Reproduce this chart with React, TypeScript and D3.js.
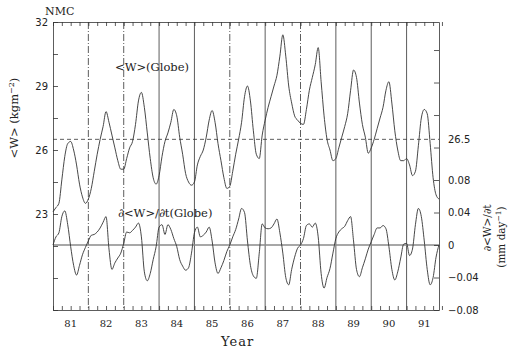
import * as d3 from 'd3';
import React, { useEffect, useRef } from 'react';

// monthly values, Jan 1981 .. Dec 1991
const startYear = 1981;
const wGlobe: number[] = [
    23.1, 23.3, 23.5, 24.6, 25.7, 26.3, 26.4, 26.0, 25.3, 24.4, 23.8, 23.5,
    23.7, 24.2, 25.0, 25.8, 26.5, 27.1, 27.8, 27.3, 26.7, 26.1, 25.5, 25.1,
    25.1, 25.6, 26.1, 26.4, 27.2, 28.3, 28.7, 28.0, 26.8, 25.6, 24.7, 24.4,
    24.8, 25.7, 26.4, 26.8, 27.3, 27.9, 27.6, 26.6, 25.8, 24.9, 24.5, 24.35,
    24.5, 25.3, 25.7, 26.0, 26.6, 27.4, 27.85, 27.3, 26.3, 25.5, 24.7, 24.2,
    24.3, 25.0, 25.8, 26.5, 27.3, 28.5, 29.0, 28.3, 26.9, 25.8, 25.6, 26.7,
    27.4, 28.0, 28.5, 29.0, 29.5, 30.4, 31.4, 30.4, 29.0, 28.2, 27.6, 27.4,
    27.25, 27.2, 27.9, 28.8, 29.4, 30.0, 30.8, 29.2, 27.6, 26.5, 26.0, 25.5,
    25.6, 26.1, 26.6, 27.1, 27.7, 28.8, 29.75, 29.4, 28.2, 27.2, 26.6, 25.85,
    26.1, 26.5, 27.0, 27.5, 28.0, 28.8, 29.2, 28.2, 26.9, 26.0, 25.5, 25.5,
    25.6, 25.3, 24.8, 25.0, 26.2, 27.5, 27.9, 27.7, 26.3, 24.7, 23.9, 23.7,
];
const dwdt: number[] = [
    0.0, 0.01, 0.015, 0.035, 0.042, 0.025, -0.002, -0.025, -0.037, -0.025, -0.012, -0.003,
    0.005, 0.012, 0.013, 0.016, 0.021, 0.028, 0.035, -0.005, -0.03, -0.022, -0.016, -0.01,
    0.002, 0.016, 0.015, 0.018, 0.022, 0.027, 0.01, -0.033, -0.044, -0.035, -0.018, -0.002,
    0.022, 0.025, 0.013, 0.025, 0.019, 0.008, -0.002, -0.018, -0.026, -0.031, -0.028, -0.01,
    0.015, 0.022, 0.01, 0.012, 0.016, 0.022, 0.005, -0.022, -0.035, -0.028, -0.019, -0.008,
    0.0, 0.01, 0.019, 0.032, 0.045, 0.04, 0.005, -0.025, -0.038, -0.041, -0.01, 0.026,
    0.021, 0.02, 0.021, 0.026, 0.032, 0.015, -0.01, -0.04, -0.049, -0.03, -0.015, -0.004,
    0.0, 0.008, 0.024, 0.026, 0.022, 0.027, 0.01, -0.035, -0.053, -0.04, -0.029, -0.01,
    0.008, 0.016, 0.02, 0.023, 0.03, 0.035, 0.005, -0.03, -0.039, -0.028, -0.017, -0.005,
    0.004, 0.013, 0.021, 0.021, 0.024, 0.02, -0.002, -0.03, -0.043, -0.033, -0.016, 0.001,
    0.002, -0.013, -0.005, 0.025, 0.045, 0.035, 0.005, -0.03, -0.049, -0.04, -0.015, 0.0,
];
const yearLabels = ['81', '82', '83', '84', '85', '86', '87', '88', '89', '90', '91'];
const leftTicks = [32, 30.5, 29, 27.5, 26, 24.5, 23, 21.5, 20, 18.5];
const leftLabels = [32, 29, 26, 23];
const rightTicks = [-0.08, -0.04, 0, 0.04, 0.08, 0.12, 0.16, 0.2, 0.24];
const rightLabels = [-0.08, -0.04, 0, 0.04, 0.08];
const refLevel = 26.5;
// year boundaries drawn dash-dot instead of solid
const dashedYears = [1982, 1983, 1986, 1988];

export default () => {
    const ref = useRef<any>();

    useEffect(() => {
        const svg = d3.select<any, any>(ref.current);
        svg.selectAll('*').remove();

        const frame = { left: 53, right: 439, top: 22, bottom: 310 };
        const endYear = startYear + (wGlobe.length - 1) / 12;

        const x = d3.scaleLinear().domain([startYear, endYear]).range([frame.left, frame.right]);
        const yL = d3.scaleLinear().domain([18.5, 32]).range([frame.bottom, frame.top]);
        const yR = d3.scaleLinear().domain([-0.08, 0.2745]).range([frame.bottom, frame.top]);
        const t = (i: number) => startYear + i / 12;

        const ink = '#333';
        const tickFont = '"DejaVu Sans", sans-serif';
        const serif = '"DejaVu Serif", serif';

        // year boundary lines
        const years = d3.range(startYear + 1, startYear + yearLabels.length);
        svg.append('g').selectAll('line').data(years).join('line')
            .attr('x1', (d) => x(d)).attr('x2', (d) => x(d))
            .attr('y1', frame.top).attr('y2', frame.bottom)
            .attr('stroke', ink).attr('stroke-width', 0.8)
            .attr('stroke-dasharray', (d) => dashedYears.includes(d) ? '7,2,1,2' : null);

        // reference lines
        svg.append('line')
            .attr('x1', frame.left).attr('x2', frame.right)
            .attr('y1', yL(refLevel)).attr('y2', yL(refLevel))
            .attr('stroke', ink).attr('stroke-width', 0.8).attr('stroke-dasharray', '4,3');
        svg.append('line')
            .attr('x1', frame.left).attr('x2', frame.right)
            .attr('y1', yR(0)).attr('y2', yR(0))
            .attr('stroke', '#8a8a8a').attr('stroke-width', 1.3);

        // axes
        const quarters = d3.range(0, wGlobe.length + 1, 3).map(t);
        const styleAxis = (g: any) => {
            g.selectAll('path,line').attr('stroke', ink).attr('stroke-width', 0.8);
            g.selectAll('text').attr('font-family', tickFont).attr('font-size', 10).attr('fill', '#222');
        };
        svg.append('g').attr('transform', `translate(0,${frame.bottom})`)
            .call(d3.axisBottom(x).tickValues(quarters).tickSize(-4).tickSizeOuter(0).tickFormat(() => ''))
            .call(styleAxis);
        svg.append('g').attr('transform', `translate(0,${frame.top})`)
            .call(d3.axisTop(x).tickValues(quarters).tickSize(-4).tickSizeOuter(0).tickFormat(() => ''))
            .call(styleAxis);
        svg.append('g').attr('transform', `translate(${frame.left},0)`)
            .call(d3.axisLeft(yL).tickValues(leftTicks).tickSize(-5).tickSizeOuter(0).tickPadding(5)
                .tickFormat((d: any) => leftLabels.includes(d) ? String(d) : ''))
            .call(styleAxis);
        svg.append('g').attr('transform', `translate(${frame.right},0)`)
            .call(d3.axisRight(yR).tickValues(rightTicks).tickSize(-5).tickSizeOuter(0).tickPadding(9)
                .tickFormat((d: any) => rightLabels.includes(d) ? (d < 0 ? '\u2212' + Math.abs(d).toFixed(2) : d === 0 ? '0' : d.toFixed(2)) : ''))
            .call(styleAxis);
        svg.append('text').attr('x', frame.right + 9).attr('y', yL(refLevel)).attr('dy', '0.32em')
            .attr('font-family', tickFont).attr('font-size', 10).attr('fill', '#222').text(String(refLevel));

        // year labels
        svg.append('g').selectAll('text').data(yearLabels).join('text')
            .attr('x', (d, i) => x(startYear + i + 0.5)).attr('y', 327)
            .attr('text-anchor', 'middle').attr('font-family', serif).attr('font-size', 10).attr('fill', '#222')
            .text((d) => d);

        // curves
        const lineW = d3.line<number>().x((d, i) => x(t(i))).y((d) => yL(d)).curve(d3.curveMonotoneX);
        const lineD = d3.line<number>().x((d, i) => x(t(i))).y((d) => yR(d)).curve(d3.curveMonotoneX);
        svg.append('path').datum(wGlobe).attr('d', lineW).attr('fill', 'none').attr('stroke', ink).attr('stroke-width', 0.9);
        svg.append('path').datum(dwdt).attr('d', lineD).attr('fill', 'none').attr('stroke', ink).attr('stroke-width', 0.9);

        // annotations
        const txt = (xx: number, yy: number, s: string, size: number) =>
            svg.append('text').attr('x', xx).attr('y', yy).attr('font-family', serif)
                .attr('font-size', size).attr('fill', '#222').text(s);
        txt(45, 15, 'NMC', 11);
        txt(115, 71, '<W>(Globe)', 11.5);
        txt(118, 217, '\u2202<W>/\u2202t(Globe)', 11.5);
        txt(221, 346, 'Year', 13).attr('letter-spacing', 1);

        const left = svg.append('text').attr('transform', 'translate(18,118) rotate(-90)')
            .attr('text-anchor', 'middle').attr('font-family', serif).attr('font-size', 11.5).attr('fill', '#222');
        left.append('tspan').text('<W> (kgm');
        left.append('tspan').attr('dy', -4).attr('font-size', 8).text('\u22122');
        left.append('tspan').attr('dy', 4).text(')');

        svg.append('text').attr('transform', 'translate(491,228) rotate(-90)')
            .attr('text-anchor', 'middle').attr('font-family', serif).attr('font-size', 10.5).attr('fill', '#222')
            .text('\u2202<W>/\u2202t');
        const right = svg.append('text').attr('transform', 'translate(505,237) rotate(-90)')
            .attr('text-anchor', 'middle').attr('font-family', serif).attr('font-size', 10.5).attr('fill', '#222');
        right.append('tspan').text('(mm day');
        right.append('tspan').attr('dy', -4).attr('font-size', 7.5).text('\u22121');
        right.append('tspan').attr('dy', 4).text(')');
    });

    return (
        <svg ref={ref} width={509} height={353}
            style={{ position: 'absolute', left: 0, top: 0, background: '#fff' }}></svg>
    );
};
